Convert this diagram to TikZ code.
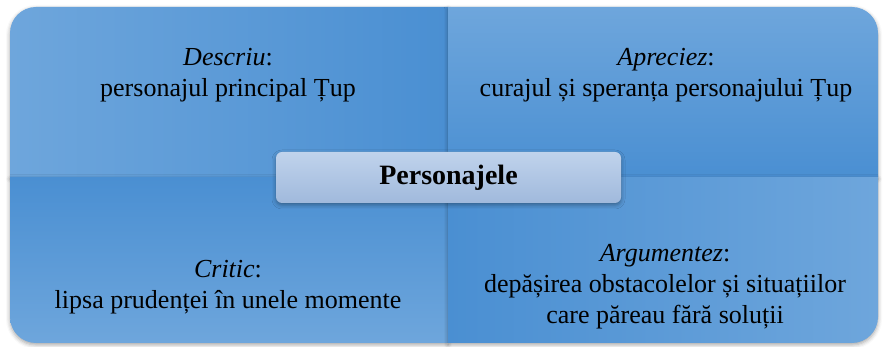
\documentclass[tikz,border=0pt]{standalone}
\usepackage{fontspec}
\setmainfont{Liberation Serif}
\usepackage{tikz}
\usetikzlibrary{
	shadows
	,shadows.blur
	,fadings
}
\definecolor{quadlight}{HTML}{6EA6DC}
\definecolor{quaddark}{HTML}{4A8FD2}
\definecolor{boxtop}{HTML}{C0D3EC}
\definecolor{boxbottom}{HTML}{A0B9DC}
\tikzset{
	quadshadow/.style={blur shadow={shadow xshift=0pt,shadow yshift=-1pt,shadow blur radius=2pt,shadow opacity=35}},
	quadtext/.style={black,align=center,font=\fontsize{13}{15.5}\selectfont},
}

\begin{document}
\begin{tikzpicture}[x=0.5pt,y=0.5pt]
\useasboundingbox (0,0) rectangle (883,347);
\shade[quadshadow,left color=quadlight,right color=quaddark] (10,170) -- (10,314) arc[start angle=180,end angle=90,radius=26] -- (448,340) -- (448,170) -- cycle;
\shade[quadshadow,top color=quadlight,bottom color=quaddark] (448,170) -- (448,340) -- (852,340) arc[start angle=90,end angle=0,radius=26] -- (878,170) -- cycle;
\shade[quadshadow,top color=quaddark,bottom color=quadlight] (448,170) -- (10,170) -- (10,30) arc[start angle=180,end angle=270,radius=26] -- (448,4) -- cycle;
\shade[quadshadow,left color=quaddark,right color=quadlight] (448,170) -- (448,4) -- (852,4) arc[start angle=270,end angle=360,radius=26] -- (878,170) -- cycle;
\node[quadtext] (descriu) at (228,272) {\textit{Descriu}:\\personajul principal Țup};
\node[quadtext] (apreciez) at (666,272) {\textit{Apreciez}:\\curajul și speranța personajului Țup};
\node[quadtext] (critic) at (228,59.5) {\textit{Critic}:\\lipsa prudenței în unele momente};
\node[quadtext] (argumentez) at (665,60.5) {\textit{Argumentez}:\\depășirea obstacolelor și situațiilor\\care păreau fără soluții};
\node[quadshadow,rounded corners=3pt,top color=boxtop,bottom color=boxbottom,minimum width=172.5pt,minimum height=25.5pt,font=\bfseries\fontsize{14}{16}\selectfont] (personajele) at (448.5,169.5) {Personajele};
\end{tikzpicture}
\end{document}
